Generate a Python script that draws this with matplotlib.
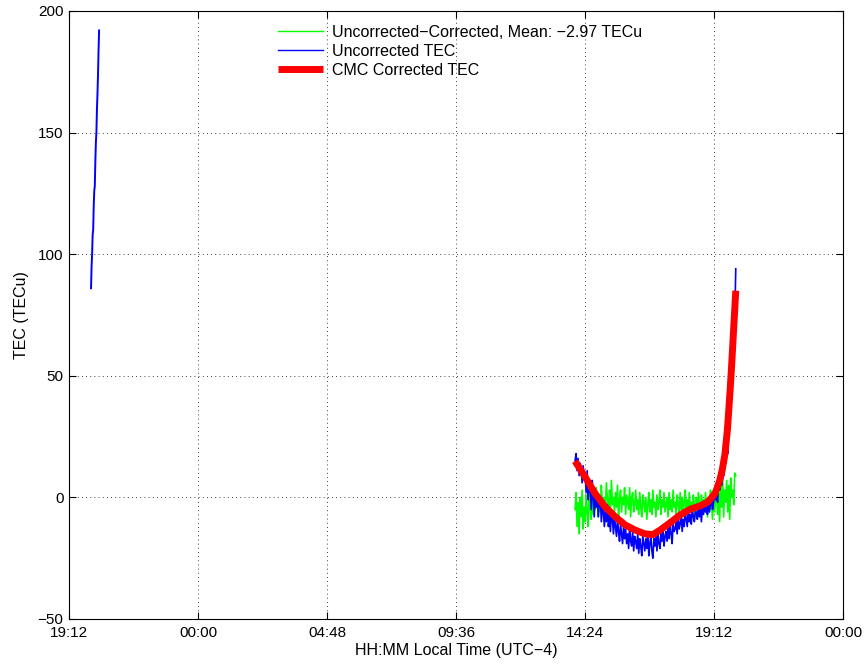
import numpy as np
import matplotlib.pyplot as plt

plt.rcParams['font.family'] = ['Liberation Sans', 'DejaVu Sans']

# hours since 19:12 local time
tick_hours = [0, 4.8, 9.6, 14.4, 19.2, 24.0, 28.8]
tick_labels = ["19:12", "00:00", "04:48", "09:36", "14:24", "19:12", "00:00"]

# short early arc (uncorrected only)
early_t = [0.82, 0.84, 0.86, 0.88, 0.90, 0.92, 0.94, 0.96, 0.98, 1.00,
           1.02, 1.04, 1.06, 1.08, 1.10, 1.12]
early_tec = [86, 95, 100, 108, 110, 120, 126, 128, 138, 146,
             150, 160, 166, 174, 184, 192]

# main arc, sampled evenly between these times
arc_start, arc_end = 18.83, 24.81
uncorrected = [15, 18, 11, 16, 9, 14, 12, 6, 13, 8,
               9, 2, 11, -1, 6, 4, -5, 7, 0, -8,
               3, -4, 1, -8, -2, 0, -10, -3, -6, -12,
               -5, -10, -3, -12, -7, -14, -6, -9, -15, -8,
               -12, -16, -9, -14, -18, -11, -15, -19, -12, -17,
               -13, -19, -15, -21, -12, -18, -20, -14, -22, -16,
               -18, -21, -15, -23, -17, -20, -24, -16, -19, -22,
               -17, -21, -15, -24, -19, -16, -22, -25, -17, -20,
               -16, -22, -14, -19, -21, -15, -18, -13, -20, -16,
               -14, -18, -12, -17, -10, -15, -19, -11, -14, -13,
               -10, -15, -8, -13, -11, -7, -14, -9, -12, -6,
               -9, -12, -5, -10, -7, -11, -4, -8, -10, -6,
               -6, -9, -3, -8, -5, -10, -4, -7, -2, -6,
               -4, -7, -1, -6, -3, 0, -5, -2, 3, -1,
               2, -2, 6, 3, 10, 5, 13, 9, 17, 14,
               22, 18, 30, 36, 44, 50, 58, 66, 74, 94]
difference = [-5, 2, -12, -2, -15, 0, -8, 3, -13, -4,
              -10, 1, -6, -12, 3, -4, -9, 2, -7, -1,
              -5, 4, -3, -8, 1, -6, 5, -2, -7, 0,
              -4, 6, -1, -7, 3, -5, 7, -3, 0, -6,
              2, -4, 5, -8, -1, 3, -6, 0, -3, 4,
              -7, 1, -2, -5, 4, -8, 0, 2, -6, -3,
              3, -5, -1, -7, 2, -4, -8, 1, -2, -6,
              0, -9, -3, 2, -6, -1, -7, 3, -4, -2,
              -8, 1, -5, -2, 3, -7, -1, -4, 2, -6,
              -3, 0, -8, 2, -5, -1, -6, 3, -4, -2,
              -7, 1, -3, -6, 2, -5, 0, -8, -2, 3,
              -5, -1, -7, 2, -4, -2, -6, 1, -3, -8,
              0, -5, 2, -3, -7, 1, -4, -1, -6, 2,
              -3, -8, 0, -5, 3, -2, -9, 1, -6, -1,
              4, -7, 2, -10, 6, -4, 8, -8, 3, -2,
              7, -6, 5, -9, 8, 0, 3, -3, 10, 9]
arc_t = np.linspace(arc_start, arc_end, len(uncorrected))

corrected_t = [18.83, 19.20, 19.57, 19.94, 20.32, 20.69, 21.06, 21.43, 21.73, 22.00,
               22.37, 22.74, 23.11, 23.48, 23.78, 24.04, 24.12, 24.22, 24.31, 24.41,
               24.50, 24.60, 24.66, 24.72, 24.77, 24.81]
corrected = [14.9, 8.5, 1.7, -3.8, -7.9, -11.3, -13.4, -15.0, -15.3, -13.4,
             -10.4, -7.2, -4.9, -3.5, -1.8, 1.7, 4.0, 7.2, 11.5, 18,
             28, 44, 55, 67, 77, 85]

fig = plt.figure(figsize=(8.67, 6.66), dpi=100)
ax = fig.add_axes([69/867, 1 - 619/666, 774/867, 608/666])

ax.plot(arc_t, difference, color='#00ff00', lw=1.2,
        label='Uncorrected\u2212Corrected, Mean: \u22122.97 TECu')
ax.plot(arc_t, uncorrected, color='#0000ff', lw=1.2, label='Uncorrected TEC')
ax.plot(early_t, early_tec, color='#0000ff', lw=1.4)
ax.plot(corrected_t, corrected, color='#ff0000', lw=5, label='CMC Corrected TEC',
        solid_capstyle='butt')

ax.set_xlim(0, 28.8)
ax.set_ylim(-50, 200)
ax.set_xticks(tick_hours)
ax.set_xticklabels(tick_labels)
ax.set_yticks([-50, 0, 50, 100, 150, 200])
ax.tick_params(direction='in', top=True, right=True, length=5, labelsize=11)
ax.tick_params(axis='x', pad=5)
ax.tick_params(axis='y', pad=4)
ax.grid(True, color='black', linestyle=(0, (1, 4)), linewidth=0.6)
ax.set_xlabel('HH:MM Local Time (UTC\u22124)', fontsize=11.5)
ax.set_ylabel('TEC (TECu)', fontsize=11.5)
ax.xaxis.set_label_coords(0.5, -(643 - 619) / 608)
ax.yaxis.set_label_coords((29 - 69) / 774, 0.5)

leg = ax.legend(loc='upper left', bbox_to_anchor=(0.270, 0.977), frameon=False,
                fontsize=11.5, handlelength=2.8, handletextpad=0.6, labelspacing=0.24,
                borderaxespad=0, borderpad=0)
for line in leg.get_lines()[:2]:
    line.set_linewidth(1.0)

fig.savefig('out.png', dpi=100)
